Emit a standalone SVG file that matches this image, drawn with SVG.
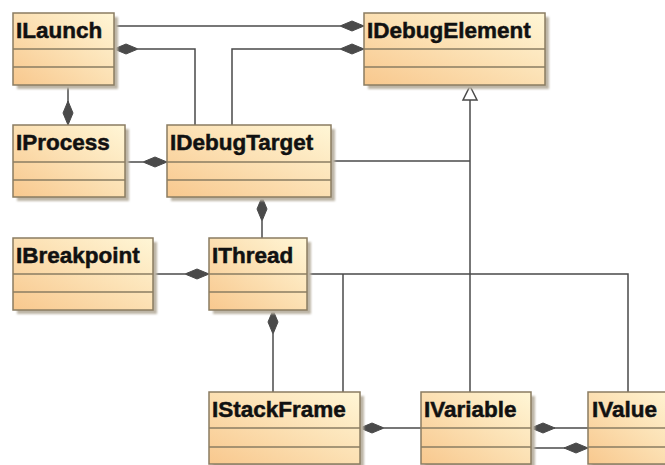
<svg xmlns="http://www.w3.org/2000/svg" xmlns:xlink="http://www.w3.org/1999/xlink" width="665" height="465" viewBox="0 0 665 465">
  <defs>
    <linearGradient id="classFill" x1="0" y1="1" x2="1" y2="0">
      <stop offset="0" stop-color="#F8C88E"/>
      <stop offset="0.55" stop-color="#FCE2B6"/>
      <stop offset="1" stop-color="#FFF6D6"/>
    </linearGradient>
    <filter id="soft" x="-10%" y="-10%" width="130%" height="130%">
      <feGaussianBlur stdDeviation="1.2"/>
    </filter>
    <!-- composition diamond, horizontal, left tip at origin -->
    <path id="dia" d="M0 0 L12 -5 L24 0 L12 5 Z"/>
  </defs>
  <style>
    .shadow { fill: #BDB5A6; filter: url(#soft); }
    .box { fill: url(#classFill); stroke: #8A7C62; stroke-width: 1.5; }
    .sep { stroke: #8A7C62; stroke-width: 1.5; }
    .name { font-family: "Liberation Sans", Arial, sans-serif; font-weight: bold; font-size: 22.5px; fill: #111; stroke: #111; stroke-width: 0.5; }
    .conn { fill: none; stroke: #4A4A4A; stroke-width: 1.5; }
    .dia { fill: #4A4A4A; stroke: #4A4A4A; stroke-width: 1; }
    .tri { fill: #fff; stroke: #4A4A4A; stroke-width: 1.5; }
  </style>
  <rect width="665" height="465" fill="#fff"/>

  <g id="connectors">
    <!-- ILaunch - IDebugElement -->
    <polyline class="conn" points="114,26 340,26"/>
    <use href="#dia" class="dia" transform="translate(340,26)"/>
    <!-- ILaunch - IDebugTarget -->
    <polyline class="conn" points="138,49 195,49 195,125"/>
    <use href="#dia" class="dia" transform="translate(114,49)"/>
    <!-- IDebugTarget - IDebugElement -->
    <polyline class="conn" points="232,125 232,49 340,49"/>
    <use href="#dia" class="dia" transform="translate(340,49)"/>
    <!-- ILaunch - IProcess -->
    <polyline class="conn" points="68,85 68,103"/>
    <use href="#dia" class="dia" transform="translate(68,101) rotate(90)"/>
    <!-- IProcess - IDebugTarget -->
    <polyline class="conn" points="125,162 143,162"/>
    <use href="#dia" class="dia" transform="translate(143,162)"/>
    <!-- IDebugTarget - IThread -->
    <polyline class="conn" points="262,221 262,238"/>
    <use href="#dia" class="dia" transform="translate(262,197) rotate(90)"/>
    <!-- generalization to IDebugElement -->
    <polyline class="conn" points="332,161 470,161"/>
    <polyline class="conn" points="470,100 470,392"/>
    <polygon class="tri" points="470,86 477,100 463,100"/>
    <!-- IBreakpoint - IThread -->
    <polyline class="conn" points="153,274 185,274"/>
    <use href="#dia" class="dia" transform="translate(185,274)"/>
    <!-- IThread - IValue / IStackFrame -->
    <polyline class="conn" points="307,274 628,274 628,392"/>
    <polyline class="conn" points="343,274 343,392"/>
    <!-- IThread - IStackFrame -->
    <polyline class="conn" points="273,334 273,392"/>
    <use href="#dia" class="dia" transform="translate(273,310) rotate(90)"/>
    <!-- IStackFrame - IVariable -->
    <polyline class="conn" points="384,428 421,428"/>
    <use href="#dia" class="dia" transform="translate(360,428)"/>
    <!-- IVariable - IValue -->
    <polyline class="conn" points="554,428 588,428"/>
    <use href="#dia" class="dia" transform="translate(531,428)"/>
    <polyline class="conn" points="531,448 565,448"/>
    <use href="#dia" class="dia" transform="translate(564,448)"/>
  </g>

  <g id="ILaunch">
    <rect class="shadow" x="17" y="17" width="101" height="72"/>
    <rect class="box" x="13" y="13" width="101" height="72"/>
    <line class="sep" x1="13" y1="49" x2="114" y2="49"/>
    <line class="sep" x1="13" y1="67" x2="114" y2="67"/>
    <text class="name" x="16" y="38">ILaunch</text>
  </g>
  <g id="IDebugElement">
    <rect class="shadow" x="368" y="17" width="181" height="72"/>
    <rect class="box" x="364" y="13" width="181" height="72"/>
    <line class="sep" x1="364" y1="49" x2="545" y2="49"/>
    <line class="sep" x1="364" y1="67" x2="545" y2="67"/>
    <text class="name" x="367" y="38">IDebugElement</text>
  </g>
  <g id="IProcess">
    <rect class="shadow" x="17" y="129" width="112" height="72"/>
    <rect class="box" x="13" y="125" width="112" height="72"/>
    <line class="sep" x1="13" y1="162" x2="125" y2="162"/>
    <line class="sep" x1="13" y1="180" x2="125" y2="180"/>
    <text class="name" x="16" y="150">IProcess</text>
  </g>
  <g id="IDebugTarget">
    <rect class="shadow" x="171" y="129" width="164" height="72"/>
    <rect class="box" x="167" y="125" width="164" height="72"/>
    <line class="sep" x1="167" y1="162" x2="331" y2="162"/>
    <line class="sep" x1="167" y1="180" x2="331" y2="180"/>
    <text class="name" x="170" y="150">IDebugTarget</text>
  </g>
  <g id="IBreakpoint">
    <rect class="shadow" x="17" y="242" width="140" height="72"/>
    <rect class="box" x="13" y="238" width="140" height="72"/>
    <line class="sep" x1="13" y1="274" x2="153" y2="274"/>
    <line class="sep" x1="13" y1="292" x2="153" y2="292"/>
    <text class="name" x="16" y="263">IBreakpoint</text>
  </g>
  <g id="IThread">
    <rect class="shadow" x="213" y="242" width="98" height="72"/>
    <rect class="box" x="209" y="238" width="98" height="72"/>
    <line class="sep" x1="209" y1="274" x2="307" y2="274"/>
    <line class="sep" x1="209" y1="292" x2="307" y2="292"/>
    <text class="name" x="212" y="263">IThread</text>
  </g>
  <g id="IStackFrame">
    <rect class="shadow" x="213" y="396" width="151" height="72"/>
    <rect class="box" x="209" y="392" width="151" height="72"/>
    <line class="sep" x1="209" y1="428" x2="360" y2="428"/>
    <line class="sep" x1="209" y1="447" x2="360" y2="447"/>
    <text class="name" x="212" y="417">IStackFrame</text>
  </g>
  <g id="IVariable">
    <rect class="shadow" x="425" y="396" width="110" height="72"/>
    <rect class="box" x="421" y="392" width="110" height="72"/>
    <line class="sep" x1="421" y1="428" x2="531" y2="428"/>
    <line class="sep" x1="421" y1="447" x2="531" y2="447"/>
    <text class="name" x="424" y="417">IVariable</text>
  </g>
  <g id="IValue">
    <rect class="shadow" x="592" y="396" width="90" height="72"/>
    <rect class="box" x="588" y="392" width="90" height="72"/>
    <line class="sep" x1="588" y1="428" x2="678" y2="428"/>
    <line class="sep" x1="588" y1="447" x2="678" y2="447"/>
    <text class="name" x="592" y="417">IValue</text>
  </g>
</svg>
